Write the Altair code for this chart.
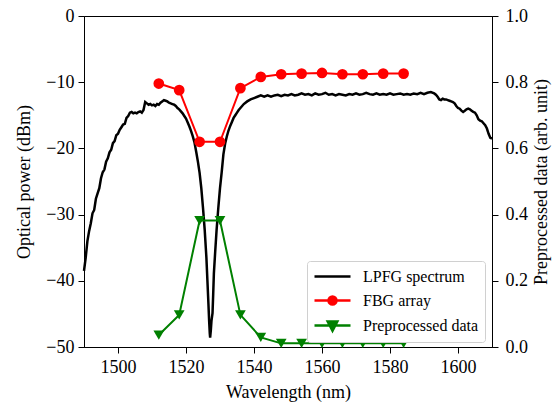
import altair as alt
import pandas as pd

# ---------------- data ----------------
lpfg_wl = [1490, 1490.5, 1491, 1491.5, 1492, 1492.5, 1493, 1493.5, 1494, 1494.5,
           1495, 1495.5, 1496, 1496.5, 1497, 1497.5, 1498, 1498.5, 1499, 1499.5,
           1500, 1500.5, 1501, 1501.5, 1502, 1502.5, 1503, 1503.5, 1504, 1504.5,
           1505, 1505.5, 1506, 1506.5, 1507, 1507.5, 1508, 1508.5, 1509, 1509.5,
           1510, 1510.5, 1511, 1511.5, 1512, 1512.5, 1513, 1513.5, 1514, 1514.5,
           1515, 1515.5, 1516, 1516.5, 1517, 1517.5, 1518, 1518.5, 1519, 1519.5,
           1520, 1520.5, 1521, 1521.5, 1522, 1522.5, 1523, 1523.5, 1524, 1524.5,
           1525, 1525.5, 1526, 1526.3, 1526.6, 1526.8, 1527.0, 1527.1, 1527.3, 1527.5,
           1527.8, 1528.0, 1528.2, 1528.6, 1529.0, 1529.5, 1530.0, 1530.5, 1531.0, 1531.5,
           1532.0, 1532.5, 1533.0, 1533.5, 1534, 1534.5, 1535, 1535.5, 1536, 1537,
           1538, 1539, 1540, 1541, 1542, 1543, 1544, 1545, 1546, 1547,
           1548, 1549, 1550, 1551, 1552, 1553, 1554, 1555, 1556, 1557,
           1558, 1559, 1560, 1561, 1562, 1563, 1564, 1565, 1566, 1567,
           1568, 1569, 1570, 1571, 1572, 1573, 1574, 1575, 1576, 1577,
           1578, 1579, 1580, 1581, 1582, 1583, 1584, 1585, 1586, 1587,
           1588, 1589, 1590, 1591, 1592, 1593, 1593.5, 1594, 1594.5, 1595,
           1595.5, 1596, 1596.5, 1597, 1597.5, 1598, 1598.5, 1599, 1599.5, 1600,
           1600.5, 1601, 1601.5, 1602, 1602.5, 1603, 1603.5, 1604, 1604.5, 1605,
           1605.5, 1606, 1606.5, 1607, 1607.5, 1608, 1608.5, 1609, 1609.5, 1610]
lpfg_db = [-38.5, -36.5, -34.0, -32.5, -31.3, -29.8, -29.3, -27.6, -26.8, -26.0,
           -24.5, -23.6, -23.2, -22.0, -21.5, -20.6, -20.2, -19.2, -18.9, -18.0,
           -17.8, -17.2, -16.8, -16.4, -16.3, -15.4, -15.1, -14.6, -14.5, -14.7,
           -14.6, -14.7, -14.5, -14.4, -14.6, -14.2, -13.0, -13.2, -13.4, -13.3,
           -13.5, -13.4, -13.6, -13.3, -13.4, -13.1, -12.9, -12.7, -12.8, -12.9,
           -13.1, -13.2, -13.3, -13.4, -13.6, -13.9, -14.1, -14.4, -14.7, -15.1,
           -15.5, -16.1, -16.7, -17.4, -18.2, -19.1, -20.5, -22.0, -23.7, -26.0,
           -29.0, -32.3, -36.5, -40.0, -43.5, -46.0, -48.0, -48.6, -47.5, -46.0,
           -44.9, -42.0, -38.9, -35.5, -32.3, -29.0, -26.0, -23.6, -20.9, -19.3,
           -18.2, -17.3, -16.6, -16.0, -15.4, -15.0, -14.6, -14.2, -13.9, -13.3,
           -12.9, -12.6, -12.4, -12.2, -12.0, -12.2, -12.0, -12.2, -12.0, -11.9,
           -12.1, -11.9, -12.0, -11.8, -12.0, -11.9, -11.7, -11.9, -11.8, -12.0,
           -11.7, -11.9, -11.8, -11.6, -11.9, -11.8, -12.0, -11.8, -11.9, -12.0,
           -11.8, -11.9, -11.7, -11.9, -11.8, -11.6, -11.8, -11.9, -11.7, -11.9,
           -11.8, -11.9, -11.7, -11.9, -11.8, -11.7, -11.9, -11.8, -11.9, -11.7,
           -11.8, -11.6, -11.8, -11.6, -11.5, -11.7, -11.9, -12.2, -12.6, -12.7,
           -12.5, -12.6, -12.6, -12.7, -12.8, -12.9, -13.0, -13.2, -13.6, -13.9,
           -14.0, -14.3, -14.5, -14.3, -14.1, -14.0, -14.1, -14.3, -14.5, -14.6,
           -15.0, -15.6, -15.8, -15.9, -16.2, -16.5, -17.0, -17.8, -18.4, -18.5]

fbg_wl = [1512, 1518, 1524, 1530, 1536, 1542, 1548, 1554, 1560, 1566, 1572, 1578, 1584]
fbg_db = [-10.2, -11.2, -19.0, -19.0, -10.9, -9.2, -8.8, -8.7, -8.6, -8.8, -8.8, -8.7, -8.7]

pre_wl = [1512, 1518, 1524, 1530, 1536, 1542, 1548, 1554, 1560, 1566, 1572, 1578, 1584]
pre_val = [0.036, 0.097, 0.382, 0.382, 0.097, 0.029, 0.011, 0.011, 0.011, 0.011, 0.011, 0.011, 0.011]

series_names = ["LPFG spectrum", "FBG array", "Preprocessed data"]
series_colors = ["black", "red", "green"]
# legend glyphs: a short line with the series marker in its middle
legend_paths = [
    "M-1,0H3.5",
    "M-1,0H3.5M1.75,0A0.5,0.5,0,1,1,0.75,0A0.5,0.5,0,1,1,1.75,0Z",
    "M-1,0H3.5M0.65,-0.5L1.85,-0.5L1.25,0.65Z",
]

x_ticks = [1500, 1520, 1540, 1560, 1580, 1600]
y_left_ticks = [-50, -40, -30, -20, -10, 0]
y_right_ticks = [0, 0.2, 0.4, 0.6, 0.8, 1.0]

# ---------------- tables ----------------
df_lpfg = pd.DataFrame({"wl": lpfg_wl, "p": lpfg_db})
df_fbg = pd.DataFrame({"wl": fbg_wl, "p": fbg_db})
df_pre = pd.DataFrame({"wl": pre_wl, "v": pre_val})
df_leg = pd.DataFrame({"wl": [1500] * 3, "v": [0.5] * 3, "series": series_names})

FONT = "Liberation Serif"

x_enc = alt.X("wl:Q",
              scale=alt.Scale(domain=[1490, 1610], nice=False, zero=False),
              axis=alt.Axis(values=x_ticks, format="d", title="Wavelength (nm)",
                            labelPadding=5, titlePadding=7))
y_left = alt.Y("p:Q",
               scale=alt.Scale(domain=[-50, 0], nice=False, zero=False),
               axis=alt.Axis(values=y_left_ticks, format="d", orient="left",
                             title="Optical power (dBm)", labelPadding=4, titlePadding=12))
y_right = alt.Y("v:Q",
                scale=alt.Scale(domain=[0, 1], nice=False),
                axis=alt.Axis(values=y_right_ticks, format=".1f", orient="right",
                              title="Preprocessed data (arb. unit)", labelPadding=7,
                              titlePadding=5, titleAngle=270, titleBaseline="top"))

black = alt.Chart(df_lpfg).mark_line(color="black", strokeWidth=2.5).encode(x=x_enc, y=y_left)
red_line = alt.Chart(df_fbg).mark_line(color="red", strokeWidth=2).encode(x=x_enc, y=y_left)
red_pts = alt.Chart(df_fbg).mark_point(filled=True, color="red", size=115, opacity=1,
                                       shape="circle").encode(x=x_enc, y=y_left)

green_line = alt.Chart(df_pre).mark_line(color="green", strokeWidth=2).encode(x=x_enc, y=y_right)
green_pts = alt.Chart(df_pre).mark_point(filled=True, color="green", size=115, opacity=1,
                                         shape="triangle-down").encode(x=x_enc, y=y_right)

leg = alt.Legend(title=None, orient="none", legendX=223, legendY=245, symbolOpacity=1)
legend_layer = alt.Chart(df_leg).mark_point(filled=True, opacity=0).encode(
    x=x_enc, y=y_right,
    fill=alt.Fill("series:N", scale=alt.Scale(domain=series_names, range=series_colors), legend=leg),
    stroke=alt.Stroke("series:N", scale=alt.Scale(domain=series_names, range=series_colors), legend=leg),
    shape=alt.Shape("series:N", scale=alt.Scale(domain=series_names, range=legend_paths), legend=leg),
)

left = alt.layer(black, red_line, red_pts)
right = alt.layer(green_line, green_pts, legend_layer)

chart = alt.layer(left, right).resolve_scale(y="independent").properties(
    width=408, height=331,
    padding={"left": 84, "top": 16, "right": 62, "bottom": 60},
    autosize=alt.AutoSizeParams(type="none"),
).configure_view(
    stroke="black", strokeWidth=1
).configure_axis(
    labelFont=FONT, titleFont=FONT, labelFontSize=18, titleFontSize=18,
    titleFontWeight="normal", labelColor="black", titleColor="black",
    domainColor="black", tickColor="black", tickSize=6, grid=False, domainWidth=1,
).configure_legend(
    labelFont=FONT, labelFontSize=16, labelColor="black",
    strokeColor="#d0d0d0", fillColor="white", cornerRadius=3, padding=6,
    symbolSize=256, symbolStrokeWidth=2.5, rowPadding=6, labelOffset=31,
)

chart.save("out.html", embed_options={"renderer": "svg", "actions": False})
